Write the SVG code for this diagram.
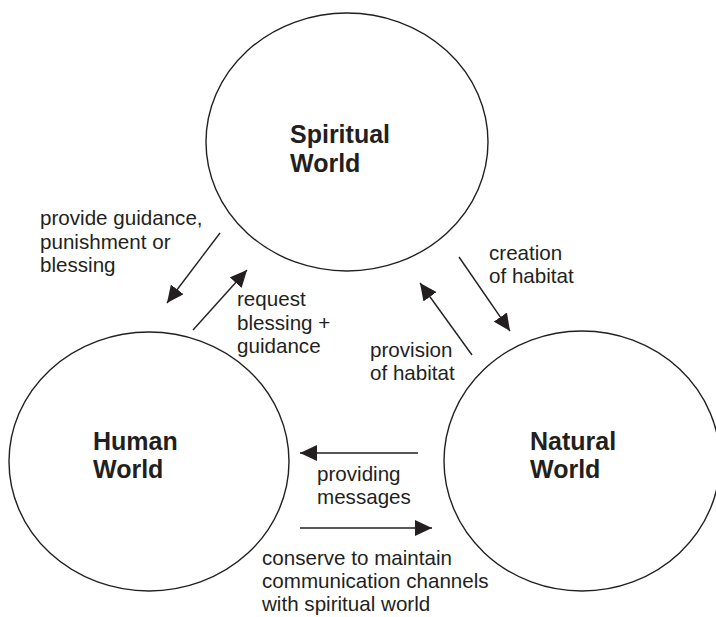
<svg xmlns="http://www.w3.org/2000/svg" width="716" height="617" viewBox="0 0 716 617">
<style>
.node{fill:none;stroke:#231f20;stroke-width:1.4}
.title{font-family:"Liberation Sans",Arial,sans-serif;font-size:25px;font-weight:bold;fill:#231f20}
.lbl{font-family:"Liberation Sans",Arial,sans-serif;font-size:20.6px;fill:#231f20}
.conn{stroke:#231f20;stroke-width:1.4;fill:none;marker-end:url(#ah)}
</style>
<defs>
<marker id="ah" markerUnits="userSpaceOnUse" markerWidth="18" markerHeight="16" refX="17" refY="8" orient="auto">
<path d="M0,0 L17,8 L0,16 z" fill="#231f20"/>
</marker>
</defs>
<rect width="716" height="617" fill="#fff"/>
<g id="spiritual">
<ellipse class="node" cx="347" cy="142" rx="141" ry="129"/>
<text class="title" x="290" y="143">Spiritual</text>
<text class="title" x="290" y="172">World</text>
</g>
<g id="human">
<ellipse class="node" cx="149" cy="461.5" rx="140" ry="129.5"/>
<text class="title" x="93" y="450">Human</text>
<text class="title" x="93" y="478">World</text>
</g>
<g id="natural">
<ellipse class="node" cx="582" cy="461" rx="138" ry="130"/>
<text class="title" x="530" y="450">Natural</text>
<text class="title" x="530" y="478">World</text>
</g>
<g id="connectors">
<line class="conn" x1="220" y1="233" x2="167" y2="303"/>
<line class="conn" x1="193" y1="330" x2="247" y2="270"/>
<line class="conn" x1="459" y1="257" x2="510" y2="331"/>
<line class="conn" x1="472" y1="355" x2="420" y2="283"/>
<line class="conn" x1="418" y1="453" x2="300" y2="453"/>
<line class="conn" x1="300" y1="528" x2="432" y2="528"/>
</g>
<g id="labels">
<text class="lbl" x="40" y="225">provide guidance,</text>
<text class="lbl" x="40" y="248.5">punishment or</text>
<text class="lbl" x="40" y="272">blessing</text>
<text class="lbl" x="237" y="306">request</text>
<text class="lbl" x="237" y="329.5">blessing +</text>
<text class="lbl" x="237" y="353">guidance</text>
<text class="lbl" x="489" y="260">creation</text>
<text class="lbl" x="489" y="283">of habitat</text>
<text class="lbl" x="370" y="357">provision</text>
<text class="lbl" x="370" y="380">of habitat</text>
<text class="lbl" x="317" y="481">providing</text>
<text class="lbl" x="317" y="504">messages</text>
<text class="lbl" x="262" y="565">conserve to maintain</text>
<text class="lbl" x="262" y="588">communication channels</text>
<text class="lbl" x="262" y="611">with spiritual world</text>
</g>
</svg>
